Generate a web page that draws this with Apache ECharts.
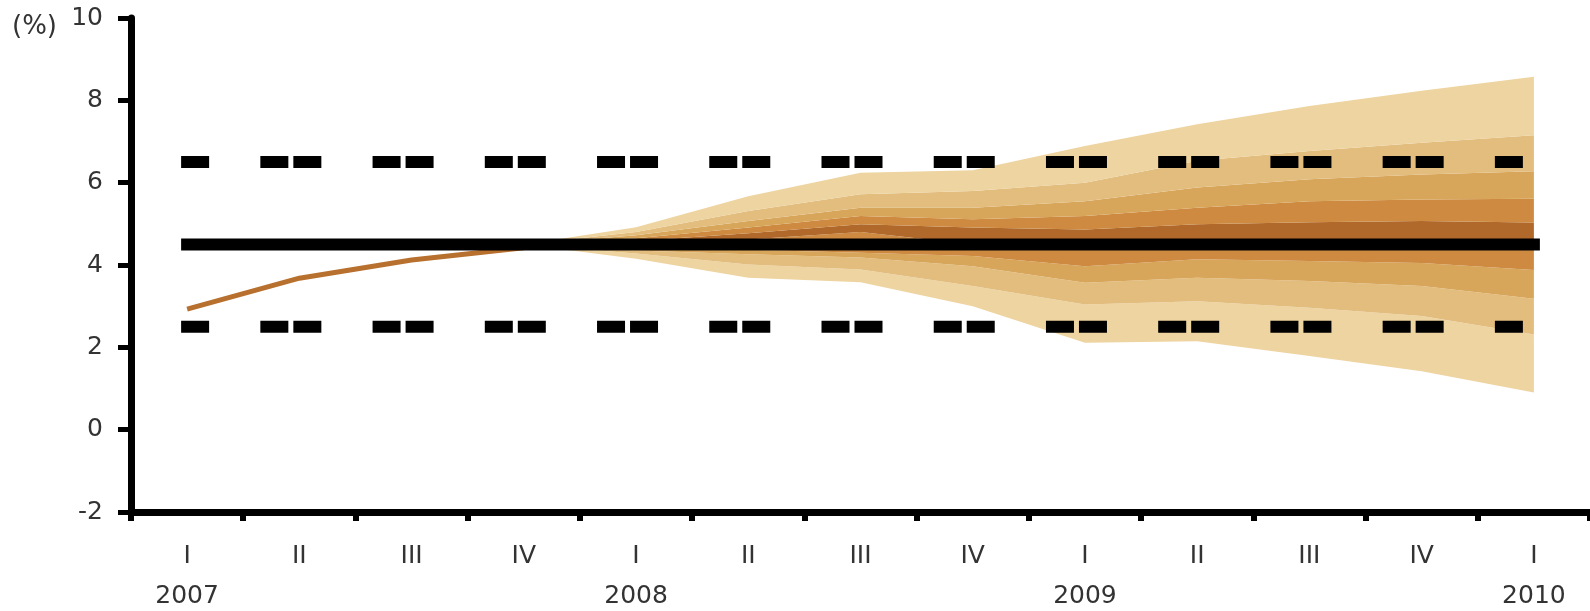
<!DOCTYPE html>
<html>
<head>
<meta charset="utf-8">
<script src="https://cdn.jsdelivr.net/npm/echarts@6/dist/echarts.min.js"></script>
<style>
  html, body { margin: 0; padding: 0; background: #fff; }
  #chart { width: 1590px; height: 611px; }
</style>
</head>
<body>
<div id="chart"></div>
<script>
// quarters 2007 I .. 2010 I
const quarters = ['I', 'II', 'III', 'IV', 'I', 'II', 'III', 'IV', 'I', 'II', 'III', 'IV', 'I'];
const years = ['2007', '', '', '', '2008', '', '', '', '2009', '', '', '', '2010'];

const actual = [2.93, 3.68, 4.12, 4.42, null, null, null, null, null, null, null, null, null];
const target = [4.5, 4.5, 4.5, 4.5, 4.5, 4.5, 4.5, 4.5, 4.5, 4.5, 4.5, 4.5, 4.5];
const upperBound = [6.5, 6.5, 6.5, 6.5, 6.5, 6.5, 6.5, 6.5, 6.5, 6.5, 6.5, 6.5, 6.5];
const lowerBound = [2.5, 2.5, 2.5, 2.5, 2.5, 2.5, 2.5, 2.5, 2.5, 2.5, 2.5, 2.5, 2.5];

// fan boundaries, top to bottom, from 2007 IV to 2010 I
const fanStart = 3;
const fan0 = [4.5, 4.92, 5.67, 6.24, 6.30, 6.89, 7.42, 7.86, 8.23, 8.57];
const fan1 = [4.5, 4.80, 5.31, 5.72, 5.80, 6.00, 6.53, 6.77, 6.97, 7.15];
const fan2 = [4.5, 4.72, 5.07, 5.39, 5.39, 5.55, 5.88, 6.08, 6.20, 6.28];
const fan3 = [4.5, 4.65, 4.91, 5.19, 5.11, 5.19, 5.39, 5.55, 5.59, 5.61];
const fan4 = [4.5, 4.58, 4.77, 4.99, 4.91, 4.86, 4.99, 5.04, 5.07, 5.03];
const fan5 = [4.5, 4.50, 4.62, 4.80, 4.50, 4.45, 4.45, 4.45, 4.45, 4.40];
const fan6 = [4.5, 4.40, 4.37, 4.30, 4.22, 3.97, 4.14, 4.10, 4.05, 3.88];
const fan7 = [4.5, 4.35, 4.26, 4.18, 3.97, 3.57, 3.69, 3.61, 3.49, 3.18];
const fan8 = [4.5, 4.28, 4.01, 3.89, 3.49, 3.04, 3.12, 2.96, 2.76, 2.31];
const fan9 = [4.5, 4.15, 3.69, 3.58, 3.00, 2.11, 2.15, 1.79, 1.42, 0.90];

const fanColors = ['#EED4A0', '#E2BD7E', '#D8A65A', '#CD8A40', '#B0692A', '#CD8A40', '#D8A65A', '#E2BD7E', '#EED4A0'];

const chart = echarts.init(document.getElementById('chart'));

const gridLeft = 131, gridRight = 0;
const catW = (1590 - gridLeft - gridRight) / quarters.length;
const FONT = '"DejaVu Sans", sans-serif';

function pad(arr) {
  const out = quarters.map(() => null);
  arr.forEach((v, i) => { out[fanStart + i] = v; });
  return out;
}

const bounds = [fan0, fan1, fan2, fan3, fan4, fan5, fan6, fan7, fan8, fan9];
const fanSeries = [{
  type: 'line', stack: 'fan', data: pad(fan9), symbol: 'none', silent: true,
  lineStyle: { width: 0, opacity: 0 }, z: 1
}];
// bands from the bottom up
for (let k = 8; k >= 0; k--) {
  const hi = bounds[k], lo = bounds[k + 1];
  fanSeries.push({
    type: 'line', stack: 'fan', symbol: 'none', silent: true,
    data: pad(hi.map((v, i) => +(v - lo[i]).toFixed(3))),
    lineStyle: { width: 0, opacity: 0 },
    areaStyle: { color: fanColors[k], opacity: 1 },
    z: 1
  });
}

const dashPattern = [16, catW - 49, 16, 17];

chart.setOption({
  animation: false,
  grid: { left: gridLeft, right: gridRight, top: 18, bottom: 99, containLabel: false, outerBoundsMode: 'none' },
  graphic: [{
    type: 'text', left: 12, top: 14,
    style: { text: '(%)', font: '26px ' + FONT, fill: '#333' }
  }],
  xAxis: {
    type: 'category',
    data: quarters,
    boundaryGap: true,
    axisLine: { onZero: false, lineStyle: { color: '#000', width: 7 } },
    axisTick: { show: true, interval: 0, length: 9, lineStyle: { color: '#000', width: 6 } },
    axisLabel: {
      interval: 0,
      margin: 24,
      fontFamily: 'DejaVu Sans',
      fontSize: 25,
      lineHeight: 40,
      color: '#333',
      formatter: (v, i) => quarters[i] + (years[i] ? '\n' + years[i] : '')
    },
    splitLine: { show: false }
  },
  yAxis: {
    type: 'value',
    min: -2,
    max: 10,
    interval: 2,
    axisLine: { show: true, lineStyle: { color: '#000', width: 7 } },
    axisTick: { show: true, length: 13, lineStyle: { color: '#000', width: 5 } },
    axisLabel: { margin: 28, fontFamily: 'DejaVu Sans', fontSize: 25, color: '#333' },
    splitLine: { show: false }
  },
  series: [
    ...fanSeries,
    {
      type: 'line', data: actual, symbol: 'none', silent: true, z: 3,
      lineStyle: { color: '#B8702E', width: 5 }
    },
    {
      type: 'line', data: target, symbol: 'none', silent: true, z: 4,
      lineStyle: { color: '#000', width: 12, cap: 'square' }
    },
    {
      type: 'line', data: upperBound, symbol: 'none', silent: true, z: 4,
      lineStyle: { color: '#000', width: 12, cap: 'square', type: dashPattern }
    },
    {
      type: 'line', data: lowerBound, symbol: 'none', silent: true, z: 4,
      lineStyle: { color: '#000', width: 12, cap: 'square', type: dashPattern }
    }
  ]
});
</script>
</body>
</html>
